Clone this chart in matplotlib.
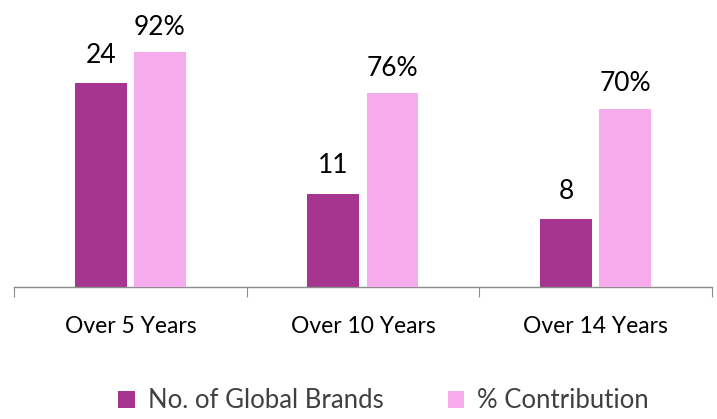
import matplotlib
matplotlib.use('Agg')
import matplotlib.pyplot as plt
import numpy as np

categories = ['Over 5 Years', 'Over 10 Years', 'Over 14 Years']
brands = [24, 11, 8]
contribution = [92, 76, 70]
brand_labels = ['24', '11', '8']
contribution_labels = ['92%', '76%', '70%']

DARK = '#A6358F'
PINK = '#F5ABEC'

plt.rcParams['font.family'] = ['Lato', 'DejaVu Sans']

fig = plt.figure(figsize=(7.17, 4.19), dpi=100)
ax = fig.add_axes([0.0195, 0.315, 0.9735, 0.6086])
ax2 = ax.twinx()

x = np.arange(len(categories))
width = 0.223
off = 0.127

b1 = ax.bar(x - off, brands, width, color=DARK, label='No. of Global Brands')
b2 = ax2.bar(x + off, contribution, width, color=PINK, label='% Contribution')

ax.set_ylim(0, 30)
ax2.set_ylim(0, 100)
ax.set_xlim(-0.5, len(categories) - 0.5)

for a in (ax, ax2):
    for s in ('top', 'right', 'left'):
        a.spines[s].set_visible(False)
    a.set_yticks([])
ax2.spines['bottom'].set_visible(False)
ax.spines['bottom'].set_color('#8C8C8C')
ax.spines['bottom'].set_linewidth(1.0)

ax.set_xticks(np.arange(len(categories) + 1) - 0.5, minor=False)
ax.set_xticklabels([])
ax.tick_params(axis='x', which='major', length=7, color='#8C8C8C')
ax.set_xticks(x, minor=True)
ax.set_xticklabels(categories, minor=True, fontsize=16.5)
ax.tick_params(axis='x', which='minor', length=0, pad=21)

ax.bar_label(b1, labels=brand_labels, padding=11, fontsize=19)
ax2.bar_label(b2, labels=contribution_labels, padding=9, fontsize=19)

fig.legend(handles=[b1, b2], loc='center', bbox_to_anchor=(0.535, 0.043),
           ncol=2, frameon=False, fontsize=18.5, handlelength=0.65,
           handleheight=0.65, handletextpad=0.5, columnspacing=2.5,
           labelcolor='#404040')

fig.savefig('out.png', dpi=100)
